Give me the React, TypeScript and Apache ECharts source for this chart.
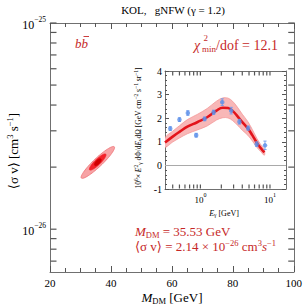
import React, { useEffect, useRef } from 'react';
import * as echarts from 'echarts';

const SERIF = '"Liberation Serif", "Times New Roman", "DejaVu Serif", serif';
const RED = '#c62828';
const AXIS = '#707070';
const TICK = '#555555';

// ---------- main panel ----------
// <sigma v> values are given in units of 1e-26 cm^3 s^-1
const massRange = [20, 100];
const sigmaRange = [0.62, 10];
const sigmaLabelTicks = [1, 10];
const sigmaMinorTicks = [0.7, 0.8, 0.9, 1, 2, 3, 4, 5, 6, 7, 8, 9, 10];
// confidence contours: ends of the major axis (mass, <sigma v>)
const contourStart = [[30.3, 1.77], [33.0, 1.94], [34.7, 2.04]];
const contourEnd = [[41.1, 2.51], [38.3, 2.31], [36.7, 2.19]];
const contourHalfWidth = [4.3, 2.8, 1.9];
const contourFill = ['#f7a3a5', '#f3222a', '#cf0000'];
const contourStroke = ['#ee7074', '#f3222a', '#cf0000'];

// ---------- inset spectrum ----------
const energyRange = [0.31, 17];
const energyLabelTicks = [1, 10];
const energyMinorTicks = [0.4, 0.5, 0.6, 0.7, 0.8, 0.9, 1, 2, 3, 4, 5, 6, 7, 8, 9, 10];
const fluxRange = [-1, 4];
const energy = [0.369, 0.5, 0.66, 0.87, 1.15, 1.55, 2.06, 2.77, 3.64, 4.85, 6.45, 8.48];
const flux = [1.56, 1.94, 2.22, 1.28, 1.97, 2.25, 2.68, 2.32, 1.85, 1.58, 0.9, 0.85];
const fluxErr = [0.08, 0.08, 0.1, 0.08, 0.08, 0.09, 0.14, 0.14, 0.1, 0.09, 0.1, 0.18];
const modelE = [0.31, 0.4, 0.5, 0.65, 0.9, 1.25, 1.7, 2.1, 2.5, 2.9, 3.4, 4.0, 4.8, 5.6, 6.5, 7.3, 8.3];
const modelFlux = [0.97, 1.22, 1.42, 1.64, 1.83, 2.04, 2.32, 2.44, 2.43, 2.31, 2.09, 1.83, 1.57, 1.27, 0.95, 0.75, 0.55];
const modelUpper = [1.17, 1.45, 1.68, 1.94, 2.16, 2.41, 2.72, 2.86, 2.85, 2.72, 2.47, 2.17, 1.86, 1.51, 1.14, 0.9, 0.67];
const modelLower = [0.77, 0.99, 1.16, 1.34, 1.5, 1.67, 1.92, 2.02, 2.01, 1.9, 1.71, 1.49, 1.28, 1.03, 0.76, 0.6, 0.43];

const powLabel = (offset: number) => (v: number) => {
  const e = Math.round(Math.log10(v)) + offset;
  return '{b|10}{s|' + String(e).replace('-', '\u2212') + '}';
};

const richPow = (base: number, sup: number) => ({
  b: { fontFamily: SERIF, fontSize: base, color: '#000', lineHeight: base + 3, verticalAlign: 'bottom' },
  s: { fontFamily: SERIF, fontSize: sup, color: '#000', lineHeight: sup + 1, verticalAlign: 'top' },
});

function frameAxis(extra: any) {
  return {
    axisLine: { show: true, onZero: false, lineStyle: { color: AXIS, width: 1 } },
    splitLine: { show: false },
    ...extra,
  };
}

// inward tick marks for a log axis, drawn as thin rect symbols at the axis edge
function tickMarks(xi: number, yi: number, pts: number[][], size: number[], offset: number[]) {
  return {
    type: 'scatter', xAxisIndex: xi, yAxisIndex: yi, clip: false, z: 6,
    symbol: 'rect', symbolSize: size, symbolOffset: offset,
    itemStyle: { color: TICK, opacity: 1 },
    emphasis: { disabled: true },
    data: pts,
  };
}

export default function App() {
  const ref = useRef<HTMLDivElement>(null);
  useEffect(() => {
    if (!ref.current) return;
    const chart = echarts.init(ref.current, null, { renderer: 'svg' });

    const tickMain = { show: true, inside: true, length: 6, lineStyle: { color: TICK } };
    const minorMain = { show: true, splitNumber: 4, length: 4, lineStyle: { color: TICK } };
    const tickInset = { show: true, inside: true, length: 4, lineStyle: { color: TICK } };

    const option: any = {
      animation: false,
      backgroundColor: '#fff',
      grid: [
        { left: 50, right: 9, top: 23, bottom: 33, show: false },
        { left: 165, right: 19, top: 71, bottom: 116, show: true, backgroundColor: '#fff', borderWidth: 0 },
      ],
      xAxis: [
        frameAxis({
          type: 'value', gridIndex: 0, position: 'bottom', min: massRange[0], max: massRange[1], interval: 20,
          axisTick: tickMain, minorTick: minorMain,
          axisLabel: { show: true, fontFamily: SERIF, fontSize: 11, color: '#000', margin: 5 },
        }),
        frameAxis({
          type: 'value', gridIndex: 0, position: 'top', min: massRange[0], max: massRange[1], interval: 20,
          axisTick: tickMain, minorTick: minorMain, axisLabel: { show: false },
        }),
        frameAxis({
          type: 'log', logBase: 10, gridIndex: 1, position: 'bottom', min: energyRange[0], max: energyRange[1],
          axisTick: { show: false },
          axisLabel: { show: true, customValues: energyLabelTicks, formatter: powLabel(0), margin: 3, rich: richPow(9, 6) },
        }),
        frameAxis({
          type: 'log', logBase: 10, gridIndex: 1, position: 'top', min: energyRange[0], max: energyRange[1],
          axisTick: { show: false }, axisLabel: { show: false },
        }),
      ],
      yAxis: [
        frameAxis({
          type: 'log', logBase: 10, gridIndex: 0, position: 'left', min: sigmaRange[0], max: sigmaRange[1],
          axisTick: { show: false },
          axisLabel: { show: true, customValues: sigmaLabelTicks, formatter: powLabel(-26), margin: 4, rich: richPow(12, 7.5) },
        }),
        frameAxis({
          type: 'log', logBase: 10, gridIndex: 0, position: 'right', min: sigmaRange[0], max: sigmaRange[1],
          axisTick: { show: false }, axisLabel: { show: false },
        }),
        frameAxis({
          type: 'value', gridIndex: 1, position: 'left', min: fluxRange[0], max: fluxRange[1], interval: 1,
          axisTick: tickInset, minorTick: { show: true, splitNumber: 5, length: 2, lineStyle: { color: TICK } },
          axisLabel: { show: true, fontFamily: SERIF, fontSize: 10, color: '#000', margin: 3 },
        }),
        frameAxis({
          type: 'value', gridIndex: 1, position: 'right', min: fluxRange[0], max: fluxRange[1], interval: 1,
          axisTick: tickInset, minorTick: { show: true, splitNumber: 5, length: 2, lineStyle: { color: TICK } },
          axisLabel: { show: false },
        }),
      ],
      series: [
        tickMarks(0, 0, sigmaMinorTicks.map((v) => [massRange[0], v]), [6, 1.2], [3.5, 0]),
        tickMarks(0, 0, sigmaMinorTicks.map((v) => [massRange[1], v]), [6, 1.2], [-2.5, 0]),
        tickMarks(2, 2, energyMinorTicks.map((e) => [e, fluxRange[0]]), [1.2, 4], [0, -2.5]),
        tickMarks(2, 2, energyMinorTicks.map((e) => [e, fluxRange[1]]), [1.2, 4], [0, 2.5]),
        {
          type: 'custom', name: 'contours', xAxisIndex: 0, yAxisIndex: 0, clip: true,
          data: contourStart.map((s, i) => [s[0], s[1], contourEnd[i][0], contourEnd[i][1]]),
          encode: { x: [0, 2], y: [1, 3] },
          renderItem: (params: any, api: any) => {
            const i = params.dataIndex;
            const p1 = api.coord([api.value(0), api.value(1)]);
            const p2 = api.coord([api.value(2), api.value(3)]);
            const cx = (p1[0] + p2[0]) / 2, cy = (p1[1] + p2[1]) / 2;
            const dx = p2[0] - p1[0], dy = p2[1] - p1[1];
            const a = Math.sqrt(dx * dx + dy * dy) / 2;
            const b = contourHalfWidth[i];
            const ang = Math.atan2(dy, dx);
            const ca = Math.cos(ang), sa = Math.sin(ang);
            const pts: number[][] = [];
            for (let k = 0; k < 72; k++) {
              const t = (k / 72) * Math.PI * 2;
              const u = a * Math.cos(t), v = b * Math.sin(t);
              pts.push([cx + u * ca - v * sa, cy + u * sa + v * ca]);
            }
            return {
              type: 'polygon', shape: { points: pts },
              style: { fill: contourFill[i], stroke: contourStroke[i], lineWidth: 0.8 },
            };
          },
        },
        {
          type: 'custom', name: 'band', xAxisIndex: 2, yAxisIndex: 2, clip: true,
          data: modelE.map((e, i) => [e, modelUpper[i], modelLower[i]]),
          encode: { x: 0, y: [1, 2] },
          renderItem: (params: any, api: any) => {
            if (params.dataIndex !== 0) return null;
            const pts: number[][] = [];
            for (let i = 0; i < modelE.length; i++) pts.push(api.coord([modelE[i], modelUpper[i]]));
            for (let i = modelE.length - 1; i >= 0; i--) pts.push(api.coord([modelE[i], modelLower[i]]));
            return {
              type: 'polygon', shape: { points: pts, smooth: 0.35 },
              style: { fill: '#f8b7b7', stroke: '#f29090', lineWidth: 0.7 },
            };
          },
          z: 1,
        },
        {
          type: 'line', name: 'model', xAxisIndex: 2, yAxisIndex: 2,
          data: modelE.map((e, i) => [e, modelFlux[i]]),
          smooth: 0.45, showSymbol: false, symbol: 'none',
          lineStyle: { color: '#e3141b', width: 2.6 },
          z: 3,
          markLine: {
            silent: true, symbol: 'none', label: { show: false },
            lineStyle: { color: '#a9a9a9', width: 1, type: 'solid' },
            data: [{ yAxis: 0 }],
          },
        },
        {
          type: 'custom', name: 'errors', xAxisIndex: 2, yAxisIndex: 2,
          data: energy.map((e, i) => [e, flux[i] - fluxErr[i], flux[i] + fluxErr[i]]),
          encode: { x: 0, y: [1, 2] },
          renderItem: (params: any, api: any) => {
            const lo = api.coord([api.value(0), api.value(1)]);
            const hi = api.coord([api.value(0), api.value(2)]);
            const st = { stroke: '#6f9cec', lineWidth: 0.9 };
            return {
              type: 'group',
              children: [
                { type: 'line', shape: { x1: lo[0], y1: lo[1], x2: hi[0], y2: hi[1] }, style: st },
                { type: 'line', shape: { x1: lo[0] - 1.6, y1: lo[1], x2: lo[0] + 1.6, y2: lo[1] }, style: st },
                { type: 'line', shape: { x1: hi[0] - 1.6, y1: hi[1], x2: hi[0] + 1.6, y2: hi[1] }, style: st },
              ],
            };
          },
          z: 4,
        },
        {
          type: 'scatter', name: 'data', xAxisIndex: 2, yAxisIndex: 2,
          data: energy.map((e, i) => [e, flux[i]]),
          symbol: 'circle', symbolSize: 4.5,
          itemStyle: { color: '#5a8fe8' },
          z: 5,
        },
      ],
      graphic: [
        {
          type: 'text', x: 173, y: 10,
          style: { text: 'KOL,   gNFW (\u03b3 = 1.2)', fontFamily: SERIF, fontSize: 11, fill: '#000', align: 'center', verticalAlign: 'middle' },
        },
        {
          type: 'text', x: 13, y: 151, rotation: Math.PI / 2,
          style: {
            text: '\u27e8\u03c3 v\u27e9 [cm{sup|3} s{sup|\u22121}]',
            fontFamily: SERIF, fontSize: 13, fill: '#000', align: 'center', verticalAlign: 'middle', lineHeight: 16,
            rich: {
              sup: { fontFamily: SERIF, fontSize: 8.5, fill: '#000', verticalAlign: 'top', lineHeight: 9 },
            },
          },
        },
        {
          type: 'text', x: 172, y: 297,
          style: {
            text: '{it|M}{sub|DM} [GeV]',
            fontFamily: SERIF, fontSize: 13, fill: '#000', align: 'center', verticalAlign: 'middle', lineHeight: 16,
            rich: {
              it: { fontFamily: SERIF, fontSize: 13, fontStyle: 'italic', fill: '#000', lineHeight: 16 },
              sub: { fontFamily: SERIF, fontSize: 8.5, fill: '#000', verticalAlign: 'bottom', lineHeight: 9 },
            },
          },
        },
        {
          type: 'text', x: 75, y: 43,
          style: { text: 'bb', fontFamily: SERIF, fontSize: 13, fontStyle: 'italic', fill: RED, align: 'left', verticalAlign: 'middle' },
        },
        { type: 'line', shape: { x1: 83.5, y1: 36.5, x2: 89, y2: 36.5 }, style: { stroke: RED, lineWidth: 0.9 } },
        {
          type: 'text', x: 194, y: 45,
          style: { text: '\u03c7', fontFamily: SERIF, fontSize: 14, fontStyle: 'italic', fill: RED, align: 'left', verticalAlign: 'middle' },
        },
        {
          type: 'text', x: 203.5, y: 38,
          style: { text: '2', fontFamily: SERIF, fontSize: 9, fill: RED, align: 'left', verticalAlign: 'middle' },
        },
        {
          type: 'text', x: 202, y: 49,
          style: { text: 'min', fontFamily: SERIF, fontSize: 9, fill: RED, align: 'left', verticalAlign: 'middle' },
        },
        {
          type: 'text', x: 216, y: 45,
          style: { text: '/dof = 12.1', fontFamily: SERIF, fontSize: 14, fill: RED, align: 'left', verticalAlign: 'middle' },
        },
        {
          type: 'text', x: 135, y: 231,
          style: {
            text: '{it|M}{sub|DM} = 35.53 GeV',
            fontFamily: SERIF, fontSize: 13, fill: RED, align: 'left', verticalAlign: 'middle', lineHeight: 16,
            rich: {
              it: { fontFamily: SERIF, fontSize: 13, fontStyle: 'italic', fill: RED, lineHeight: 16 },
              sub: { fontFamily: SERIF, fontSize: 8.5, fill: RED, verticalAlign: 'bottom', lineHeight: 9 },
            },
          },
        },
        {
          type: 'text', x: 135, y: 246,
          style: {
            text: '\u27e8\u03c3 v\u27e9 = 2.14 \u00d7 10{sup|\u221226} cm{sup|3}{it|s}{sup|\u22121}',
            fontFamily: SERIF, fontSize: 13, fill: RED, align: 'left', verticalAlign: 'middle', lineHeight: 16,
            rich: {
              it: { fontFamily: SERIF, fontSize: 13, fontStyle: 'italic', fill: RED, lineHeight: 16 },
              sup: { fontFamily: SERIF, fontSize: 8.5, fill: RED, verticalAlign: 'top', lineHeight: 9 },
            },
          },
        },
        {
          type: 'text', x: 138, y: 128, rotation: Math.PI / 2,
          style: {
            text: '10{sup|6}\u00d7 {it|E}{sup|2}{sub|\u03b3} d\u03a6/d{it|E}{sub|\u03b3}d\u03a9 [GeV cm{sup|\u22122} s{sup|\u22121} sr{sup|\u22121}]',
            fontFamily: SERIF, fontSize: 7.5, fill: '#000', align: 'center', verticalAlign: 'middle', lineHeight: 10,
            rich: {
              it: { fontFamily: SERIF, fontSize: 7.5, fontStyle: 'italic', fill: '#000', lineHeight: 10 },
              sup: { fontFamily: SERIF, fontSize: 5.5, fill: '#000', verticalAlign: 'top', lineHeight: 6 },
              sub: { fontFamily: SERIF, fontSize: 5.5, fill: '#000', verticalAlign: 'bottom', lineHeight: 6 },
            },
          },
        },
        {
          type: 'text', x: 224, y: 213,
          style: {
            text: '{it|E}{sub|\u03b3} [GeV]',
            fontFamily: SERIF, fontSize: 8, fill: '#000', align: 'center', verticalAlign: 'middle', lineHeight: 10,
            rich: {
              it: { fontFamily: SERIF, fontSize: 8, fontStyle: 'italic', fill: '#000', lineHeight: 10 },
              sub: { fontFamily: SERIF, fontSize: 5.5, fill: '#000', verticalAlign: 'bottom', lineHeight: 6 },
            },
          },
        },
      ],
    };
    chart.setOption(option);
    return () => chart.dispose();
  }, []);
  return <div ref={ref} style={{ position: 'fixed', left: 0, top: 0, width: 305, height: 305 }} />;
}
